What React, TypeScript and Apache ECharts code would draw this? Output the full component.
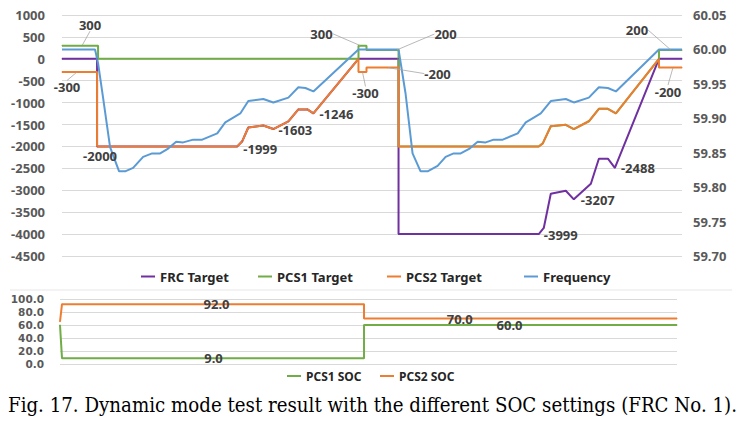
import React, { useEffect, useRef } from "react";
import * as echarts from "echarts";

// time axis (s)
const timeMax = 619;

// ---- top chart data: [time, value] ----
const frcTarget: [number, number][] = [
  [0, 0], [35, 0], [35, -2000], [175, -1999], [180, -1880], [186, -1567], [201, -1521],
  [211, -1603], [226, -1430], [236, -1155], [245, -1155], [251, -1246], [296, 0], [336, 0],
  [336, -3999], [476, -3999], [481, -3860], [488, -3080], [503, -3010], [511, -3207],
  [528, -2850], [536, -2280], [545, -2280], [552, -2488], [596, 0], [619, 0],
];
const frcLabelIdx = [2, 3, 7, 11, 15, 19, 23];

const pcs1Target: [number, number][] = [
  [0, 300], [20, 300], [36, 300], [36, 0], [296, 0], [296, 300], [298, 300], [304, 300],
  [304, 200], [334, 200], [336, 200], [336, -2000], [476, -2000], [480, -1930], [488, -1540],
  [503, -1505], [511, -1603], [526, -1425], [536, -1140], [545, -1140], [553, -1244],
  [596, 0], [596, 200], [608, 200], [619, 200],
];
const pcs1LabelIdx = [1, 6, 9, 23];

const pcs2Target: [number, number][] = [
  [0, -300], [15, -300], [35, -300], [35, -2000], [175, -1999], [180, -1880], [186, -1567],
  [201, -1521], [211, -1603], [226, -1430], [236, -1155], [245, -1155], [251, -1246],
  [296, 0], [296, -300], [300, -300], [304, -300], [304, -200], [325, -200], [336, -200],
  [336, -2000], [476, -2000], [480, -1930], [488, -1540], [503, -1505], [511, -1603],
  [526, -1425], [536, -1140], [545, -1140], [553, -1244], [596, 0], [596, -200],
  [610, -200], [619, -200],
];
const pcs2LabelIdx = [1, 15, 18, 32];

const frequency: [number, number][] = [
  [0, 60.0], [33, 60.0], [36, 59.98], [41, 59.93], [48, 59.858], [57, 59.823], [63, 59.823],
  [71, 59.828], [81, 59.844], [90, 59.849], [98, 59.849], [106, 59.856], [114, 59.866],
  [121, 59.865], [131, 59.869], [140, 59.869], [155, 59.878], [163, 59.894], [171, 59.901],
  [178, 59.907], [186, 59.925], [201, 59.928], [211, 59.923], [226, 59.93], [236, 59.945],
  [243, 59.944], [251, 59.939], [296, 60.0], [336, 60.0], [343, 59.936], [350, 59.849],
  [358, 59.823], [365, 59.823], [375, 59.831], [383, 59.844], [391, 59.849], [398, 59.849],
  [407, 59.856], [415, 59.866], [423, 59.865], [431, 59.869], [440, 59.869], [455, 59.878],
  [463, 59.894], [471, 59.901], [478, 59.907], [488, 59.925], [503, 59.928], [511, 59.923],
  [526, 59.93], [536, 59.945], [545, 59.944], [553, 59.939], [596, 60.0], [619, 60.0],
];

// ---- bottom chart data ----
const pcs1Soc: [number, number][] = [[0, 60], [2, 9], [154, 9], [305, 9], [305, 60], [451, 60], [619, 60]];
const pcs1SocLabelIdx = [2, 5];
const pcs2Soc: [number, number][] = [[0, 65], [2, 92], [157, 92], [305, 92], [305, 70], [401, 70], [619, 70]];
const pcs2SocLabelIdx = [2, 5];

// axes
const powerAxis = { min: -4500, max: 1000, interval: 500 };
const freqAxis = { min: 59.7, max: 60.05, interval: 0.05 };
const socAxis = { min: 0, max: 100, interval: 20 };

const caption = "Fig. 17. Dynamic mode test result with the different SOC settings (FRC No. 1).";

const COLORS = {
  frc: "#7030A0",
  pcs1: "#70AD47",
  pcs2: "#ED7D31",
  freq: "#5B9BD5",
};

const FONT = "Noto Sans";
const labelText = { fontFamily: FONT, fontWeight: "bold" as const, fontSize: 13, color: "#404040" };

export default function App() {
  const ref = useRef<HTMLDivElement>(null);
  useEffect(() => {
    if (!ref.current) return;
    const chart = echarts.init(ref.current, null, { renderer: "svg" });

    const frcOffsets: Record<number, [number, number]> = {
      2: [3, 10], 3: [23, 3], 7: [22, 1], 11: [23, 1], 15: [22, 1], 19: [24, 1], 23: [23, 0],
    };
    const pcs1Offsets: Record<number, [number, number]> = {
      1: [8, -21], 6: [-39, -12], 9: [49, -16], 23: [-34, -20],
    };
    const pcs2Offsets: Record<number, [number, number]> = {
      1: [-10, 15], 15: [3, 21], 18: [50, 6], 32: [-5, 24],
    };

    const build = (data: [number, number][], idx: number[], withLine: boolean, fmt?: (v: number) => string) =>
      data.map((d, i) =>
        idx.includes(i)
          ? {
              value: d,
              label: {
                show: true,
                position: "inside",
                formatter: fmt ? fmt(d[1]) : String(d[1]),
                ...labelText,
              },
              labelLine: {
                show: withLine,
                length2: 0,
                lineStyle: { color: "#a6a6a6", width: 0.8 },
              },
            }
          : { value: d }
      );

    // place label relative to its host point (point centre + offset)
    const layoutFrom = (off: Record<number, [number, number]>) => (p: any) => {
      const o = off[p.dataIndex];
      if (!o) return {};
      const cx = p.rect.x + p.rect.width / 2;
      const cy = p.rect.y + p.rect.height / 2;
      return { x: cx + o[0], y: cy + o[1], align: "center", verticalAlign: "middle" };
    };

    const lineSeries = (name: string, color: string, data: any[], extra: any = {}) => ({
      name,
      type: "line",
      data,
      symbol: "circle",
      symbolSize: 1,
      showSymbol: true,
      silent: true,
      itemStyle: { color },
      lineStyle: { color, width: 2 },
      emphasis: { disabled: true },
      ...extra,
    });

    const legendBase = (name: string, left: number, top: number, size: number) => ({
      data: [name],
      left,
      top,
      padding: 0,
      icon: "rect",
      itemWidth: 14,
      itemHeight: 2,
      selectedMode: false,
      textStyle: { fontFamily: FONT, fontWeight: "bold", fontSize: size, color: "#262626" },
    });

    const axisLabel = { fontFamily: FONT, fontWeight: "bold", fontSize: 13, color: "#595959" };

    chart.setOption({
      animation: false,
      backgroundColor: "#fff",
      grid: [
        { left: 62, right: 65, top: 15, height: 241 },
        { left: 60, right: 70, top: 299, height: 65 },
      ],
      xAxis: [
        { type: "value", gridIndex: 0, min: 0, max: timeMax, show: false },
        { type: "value", gridIndex: 1, min: 0, max: timeMax, show: false },
      ],
      yAxis: [
        {
          type: "value", gridIndex: 0, ...powerAxis,
          axisLine: { show: false }, axisTick: { show: false },
          splitLine: { lineStyle: { color: "#d9d9d9", width: 1 } },
          axisLabel: { ...axisLabel, margin: 17, formatter: (v: number) => String(v) },
        },
        {
          type: "value", gridIndex: 0, position: "right", ...freqAxis,
          axisLine: { show: false }, axisTick: { show: false }, splitLine: { show: false },
          axisLabel: { ...axisLabel, margin: 11, formatter: (v: number) => v.toFixed(2) },
        },
        {
          type: "value", gridIndex: 1, ...socAxis,
          axisLine: { show: false }, axisTick: { show: false },
          splitLine: { lineStyle: { color: "#d9d9d9", width: 1 } },
          axisLabel: {
            ...axisLabel, fontFamily: "DejaVu Sans", fontSize: 10.5, lineHeight: 12, margin: 16,
            formatter: (v: number) => v.toFixed(1),
          },
        },
      ],
      legend: [
        legendBase("FRC Target", 141, 270, 13),
        legendBase("PCS1 Target", 258, 270, 13),
        legendBase("PCS2 Target", 387, 270, 13),
        legendBase("Frequency", 524, 270, 13),
        legendBase("PCS1 SOC", 287, 370, 12),
        legendBase("PCS2 SOC", 380, 370, 12),
      ],
      graphic: [
        {
          type: "line",
          shape: { x1: 10, y1: 290, x2: 732, y2: 290 },
          style: { stroke: "#e6e6e6", lineWidth: 1 },
          silent: true,
        },
        {
          type: "text",
          left: 8,
          top: 395,
          style: { text: caption, font: '20.25px "DejaVu Serif Condensed"', fill: "#000" },
          silent: true,
        },
      ],
      series: [
        lineSeries("FRC Target", COLORS.frc, build(frcTarget, frcLabelIdx, false), {
          xAxisIndex: 0, yAxisIndex: 0, labelLayout: layoutFrom(frcOffsets),
        }),
        lineSeries("PCS1 Target", COLORS.pcs1, build(pcs1Target, pcs1LabelIdx, true), {
          xAxisIndex: 0, yAxisIndex: 0, labelLayout: layoutFrom(pcs1Offsets),
        }),
        lineSeries("PCS2 Target", COLORS.pcs2, build(pcs2Target, pcs2LabelIdx, true), {
          xAxisIndex: 0, yAxisIndex: 0, labelLayout: layoutFrom(pcs2Offsets),
        }),
        lineSeries("Frequency", COLORS.freq, frequency, {
          xAxisIndex: 0, yAxisIndex: 1, showSymbol: false,
        }),
        lineSeries("PCS1 SOC", COLORS.pcs1, build(pcs1Soc, pcs1SocLabelIdx, false, (v) => v.toFixed(1)), {
          xAxisIndex: 1, yAxisIndex: 2,
        }),
        lineSeries("PCS2 SOC", COLORS.pcs2, build(pcs2Soc, pcs2SocLabelIdx, false, (v) => v.toFixed(1)), {
          xAxisIndex: 1, yAxisIndex: 2,
        }),
      ],
    });

    return () => chart.dispose();
  }, []);

  return (
    <div
      ref={ref}
      style={{ position: "absolute", left: 0, top: 0, width: 747, height: 426, background: "#fff" }}
    />
  );
}
